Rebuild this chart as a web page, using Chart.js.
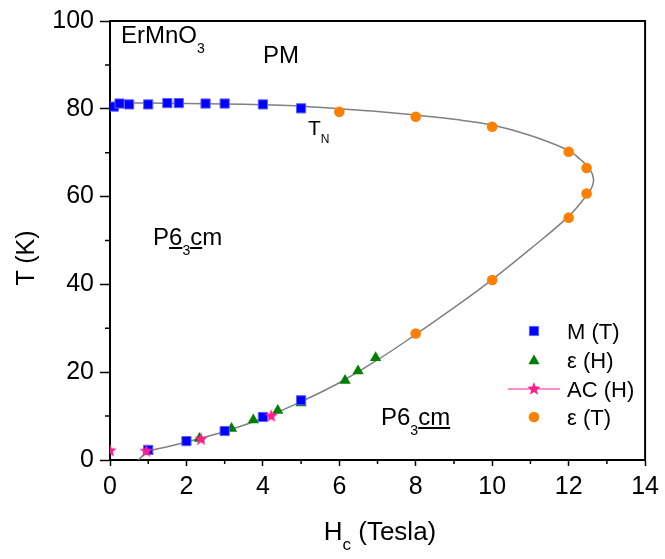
<!DOCTYPE html>
<html>
<head>
<meta charset="utf-8">
<script src="https://cdn.jsdelivr.net/npm/chart.js@4.4.1/dist/chart.umd.min.js"></script>
<style>
  html, body { margin: 0; padding: 0; background: #fff; }
  #wrap { position: relative; width: 665px; height: 559px; font-family: 'Liberation Sans', Arial, sans-serif; color: #000; }
  #wrap canvas { position: absolute; left: 0; top: 0; }
  .lbl { position: absolute; white-space: nowrap; line-height: 1; }
  .sub { position: relative; }
  u { text-decoration-thickness: 2px; text-underline-offset: 2px; }
</style>
</head>
<body>
<div id="wrap">
  <canvas id="chart" width="665" height="559"></canvas>

  <!-- annotations -->
  <div class="lbl" style="left:121px; top:23px; font-size:24px">ErMnO<span class="sub" style="font-size:14px; top:10px">3</span></div>
  <div class="lbl" style="left:263px; top:43px; font-size:24px">PM</div>
  <div class="lbl" style="left:308px; top:117px; font-size:21px">T<span class="sub" style="font-size:12px; top:8px">N</span></div>
  <div class="lbl" style="left:153px; top:225px; font-size:24px">P<u>6</u><span class="sub" style="font-size:14px; top:10px">3</span><u>c</u>m</div>
  <div class="lbl" style="left:381px; top:405px; font-size:24px">P6<span class="sub" style="font-size:14px; top:10px">3</span><u>cm</u></div>

  <!-- axis titles -->
  <div class="lbl" style="left:380px; top:518px; font-size:26px; transform:translateX(-50%)">H<span class="sub" style="font-size:17px; top:10px">c</span> (Tesla)</div>
  <div class="lbl" style="left:25px; top:258px; font-size:25px; transform:translate(-50%,-50%) rotate(-90deg)">T (K)</div>

  <!-- legend labels (symbols are drawn on the canvas) -->
  <div class="lbl" style="left:567px; top:321px; font-size:22px">M (T)</div>
  <div class="lbl" style="left:567px; top:350px; font-size:22px">ε (H)</div>
  <div class="lbl" style="left:567px; top:379px; font-size:22px">AC (H)</div>
  <div class="lbl" style="left:567px; top:407px; font-size:22px">ε (T)</div>
</div>

<script>
// ---- data ----
// M (T): magnetisation vs temperature
const mField = [0.1, 0.25, 0.5, 1.0, 1.5, 1.8, 2.5, 3.0, 4.0, 5.0, 1.0, 2.0, 3.0, 4.0, 5.0];
const mTemp  = [80.5, 81.2, 81.0, 81.0, 81.3, 81.3, 81.2, 81.2, 81.0, 80.1, 2.3, 4.3, 6.6, 9.8, 13.6];

// ε (H): dielectric constant vs field
const epsHField = [1.0, 2.34, 3.18, 3.75, 4.39, 5.0, 6.15, 6.49, 6.95];
const epsHTemp  = [2.0, 4.9, 7.2, 9.1, 11.3, 13.0, 18.1, 20.3, 23.3];

// AC (H)
const acField = [0.0, 0.95, 2.38, 4.22];
const acTemp  = [2.1, 2.0, 4.7, 10.0];

// ε (T): dielectric constant vs temperature
const epsTField = [6.0, 8.0, 10.0, 12.0, 12.47, 12.47, 12.0, 10.0, 8.0];
const epsTTemp  = [79.3, 78.2, 75.9, 70.2, 66.5, 60.7, 55.2, 41.0, 28.8];

// grey phase boundary (guide to the eye)
const curveField = [0.74, 1.0, 1.5, 2.0, 3.0, 4.0, 5.0, 6.0, 7.0, 8.0, 9.0, 10.0, 11.0, 12.0, 12.4, 12.6, 12.65,
                    12.55, 12.3, 12.0, 11.0, 10.0, 9.0, 8.0, 7.0, 6.0, 5.0, 4.0, 3.0, 2.0, 1.0, 0.0];
const curveTemp  = [0.0, 1.9, 3.0, 4.1, 6.5, 9.5, 13.3, 17.6, 22.8, 28.6, 34.7, 41.1, 48.1, 55.5, 59.5, 62.0, 64.0,
                    66.3, 68.5, 70.5, 73.9, 76.3, 77.6, 78.6, 79.4, 80.0, 80.6, 80.9, 81.1, 81.2, 81.3, 81.3];

// ticks
const xTickValues = [0, 2, 4, 6, 8, 10, 12, 14];
const xMinorTicks = [1, 3, 5, 7, 9, 11, 13];
const yTickValues = [0, 20, 40, 60, 80, 100];
const yMinorTicks = [10, 30, 50, 70, 90];

const FONT = "'Liberation Sans', Arial, sans-serif";
const BLUE = '#0000ff', GREEN = '#008000', PINK = '#ff1f8f', ORANGE = '#ff8000';

const pts = (xs, ys) => xs.map((x, i) => ({ x, y: ys[i] }));

// filled five point star used as a point style
function makeStar(size, color) {
    const c = document.createElement('canvas');
    c.width = c.height = size;
    const g = c.getContext('2d');
    const R = size / 2, r = R * 0.42;
    g.beginPath();
    for (let i = 0; i < 10; i++) {
        const rad = i % 2 ? r : R;
        const a = -Math.PI / 2 + i * Math.PI / 5;
        g.lineTo(R + rad * Math.cos(a), R + rad * Math.sin(a));
    }
    g.closePath();
    g.fillStyle = color;
    g.fill();
    return c;
}
const starImg = makeStar(14, PINK);

// top/right frame + minor ticks
const frameTicks = {
    id: 'frameTicks',
    afterDraw(chart) {
        const { ctx, chartArea: a, scales: { x, y } } = chart;
        ctx.save();
        ctx.strokeStyle = '#000';
        ctx.lineWidth = 2;
        ctx.beginPath();
        ctx.moveTo(a.left - 1, a.top);
        ctx.lineTo(a.right, a.top);
        ctx.lineTo(a.right, a.bottom + 1);
        ctx.stroke();
        ctx.lineWidth = 1.5;
        ctx.beginPath();
        xMinorTicks.forEach(v => {
            const px = x.getPixelForValue(v);
            ctx.moveTo(px, a.bottom);
            ctx.lineTo(px, a.bottom + 4);
        });
        yMinorTicks.forEach(v => {
            const py = y.getPixelForValue(v);
            ctx.moveTo(a.left, py);
            ctx.lineTo(a.left - 5, py);
        });
        ctx.stroke();
        ctx.restore();
    }
};

// legend symbols, drawn with the same point styles as the datasets
const legendRows = [
    { ds: 1, x: 534, y: 331 },
    { ds: 2, x: 534, y: 361 },
    { ds: 0, x: 534, y: 389, line: [508, 560] },
    { ds: 3, x: 534, y: 417 }
];
const legendMarks = {
    id: 'legendMarks',
    afterDraw(chart) {
        const ctx = chart.ctx;
        legendRows.forEach(row => {
            const d = chart.data.datasets[row.ds];
            ctx.save();
            if (row.line) {
                ctx.strokeStyle = PINK;
                ctx.lineWidth = 1;
                ctx.beginPath();
                ctx.moveTo(row.line[0], row.y);
                ctx.lineTo(row.line[1], row.y);
                ctx.stroke();
            }
            ctx.fillStyle = d.backgroundColor || PINK;
            ctx.strokeStyle = d.borderColor || PINK;
            ctx.lineWidth = d.borderWidth || 0;
            Chart.helpers.drawPoint(ctx, {
                pointStyle: d.pointStyle, radius: d.pointRadius, rotation: 0, borderWidth: d.borderWidth || 0
            }, row.x, row.y);
            ctx.restore();
        });
    }
};

const axisStyle = (tickLen) => ({
    type: 'linear',
    grid: { display: true, drawOnChartArea: false, drawTicks: true, tickLength: tickLen, tickColor: '#000', tickWidth: 1.5 },
    border: { display: true, color: '#000', width: 2 },
    ticks: { color: '#000', font: { family: FONT, size: 25 }, padding: 6, autoSkip: false, maxRotation: 0 }
});

new Chart(document.getElementById('chart'), {
    type: 'scatter',
    data: {
        datasets: [
            { label: 'AC (H)', data: pts(acField, acTemp), pointStyle: starImg, pointRadius: 7,
              clip: { left: 0, top: false, right: false, bottom: false } },
            { label: 'M (T)', data: pts(mField, mTemp), pointStyle: 'rect', pointRadius: 6.5,
              backgroundColor: BLUE, borderColor: '#6060ff', borderWidth: 1 },
            { label: 'ε (H)', data: pts(epsHField, epsHTemp), pointStyle: 'triangle', pointRadius: 6.5,
              backgroundColor: GREEN, borderColor: GREEN, borderWidth: 0 },
            { label: 'ε (T)', data: pts(epsTField, epsTTemp), pointStyle: 'circle', pointRadius: 5.3,
              backgroundColor: ORANGE, borderColor: ORANGE, borderWidth: 0 },
            { label: 'fit', data: pts(curveField, curveTemp), showLine: true, tension: 0.4,
              borderColor: '#808080', borderWidth: 1.5, pointRadius: 0, fill: false }
        ]
    },
    options: {
        responsive: false,
        animation: false,
        layout: { padding: { top: 19, right: 16, left: 0, bottom: 0 } },
        plugins: { legend: { display: false }, tooltip: { enabled: false } },
        scales: {
            x: Object.assign(axisStyle(6), {
                min: 0, max: 14,
                afterBuildTicks: s => { s.ticks = xTickValues.map(v => ({ value: v })); },
                afterFit: s => { s.height = 99; }
            }),
            y: Object.assign(axisStyle(10), {
                min: 0, max: 100,
                afterBuildTicks: s => { s.ticks = yTickValues.map(v => ({ value: v })); },
                afterFit: s => { s.width = 110; }
            })
        }
    },
    plugins: [frameTicks, legendMarks]
});
</script>
</body>
</html>
